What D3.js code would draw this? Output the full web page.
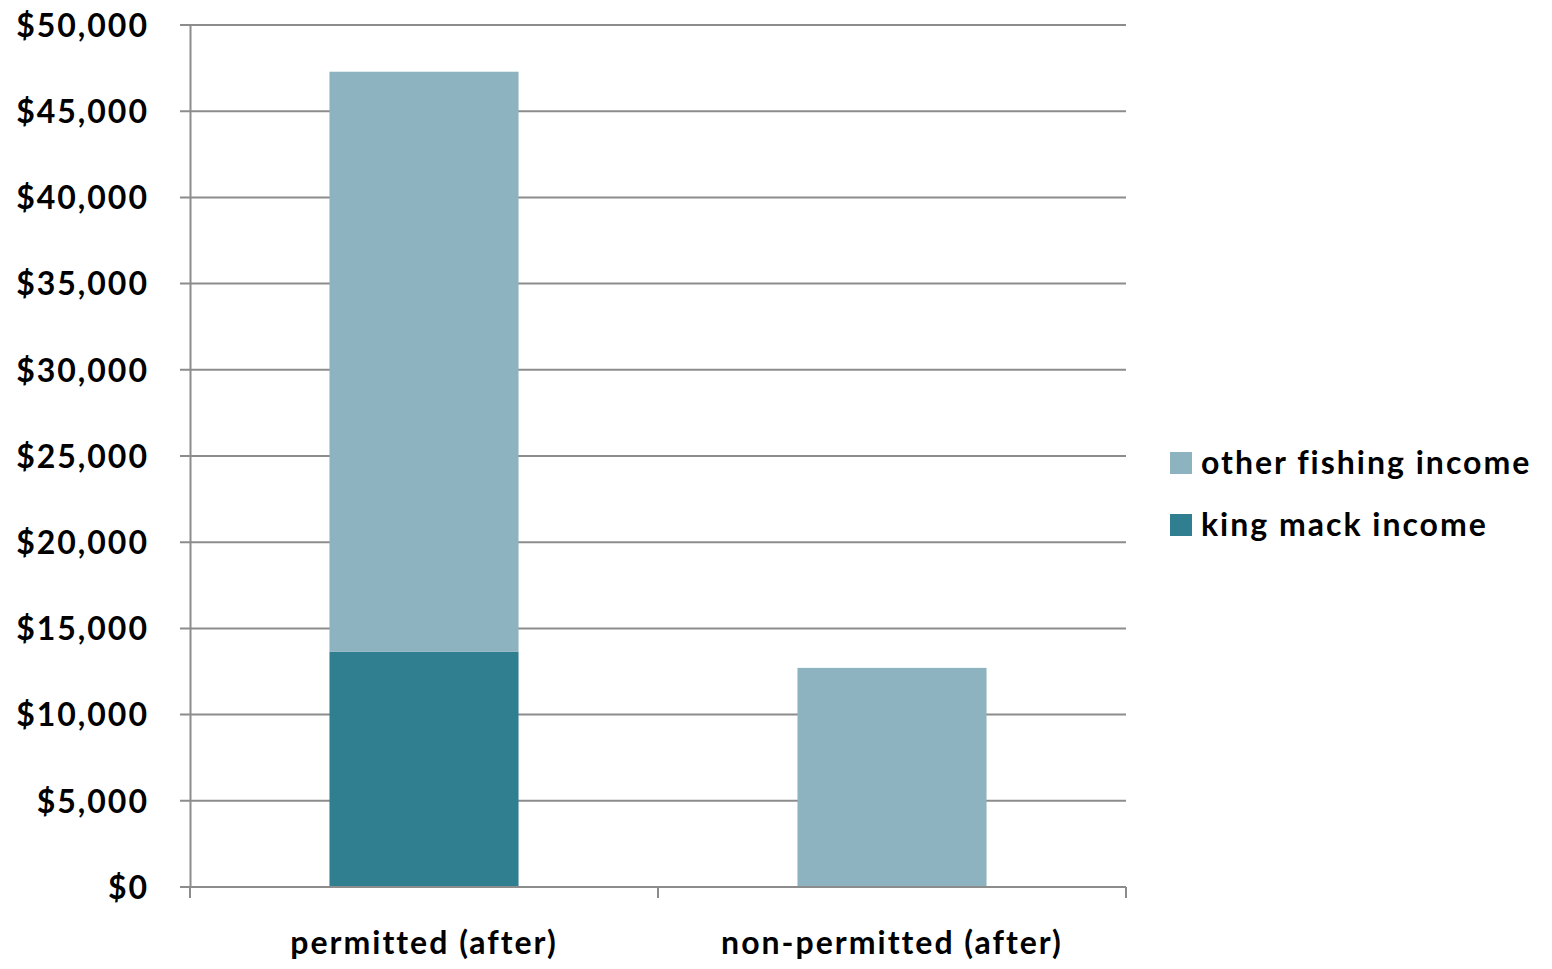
<!DOCTYPE html>
<html><head><meta charset="utf-8">
<script src="https://cdn.jsdelivr.net/npm/d3@7"></script>
<style>
html,body{margin:0;padding:0;background:#fff;}
svg{display:block;}
text{font-family:Lato, "Open Sans", sans-serif;font-weight:700;fill:#000;letter-spacing:2px;font-variant-ligatures:none;}
</style></head>
<body>
<svg id="chart" width="1552" height="969"></svg>
<script>
const categories = ["permitted (after)", "non-permitted (after)"];
const seriesNames = ["king mack income", "other fishing income"];
const kingMack = [13640, 0];
const otherFishing = [33650, 12710];
const yTicks = [0, 5000, 10000, 15000, 20000, 25000, 30000, 35000, 40000, 45000, 50000];
const colors = {"king mack income": "#2F7F91", "other fishing income": "#8DB3C1"};

(function(){
const svg = d3.select("#chart");
const mL = 190, mR = 1126, mT = 25, mB = 887;

const x = d3.scaleBand().domain(categories).range([mL, mR]).paddingInner(0).paddingOuter(0);
const y = d3.scaleLinear().domain([0, 50000]).range([mB, mT]);

const rows = categories.map((c, i) => ({cat: c, "king mack income": kingMack[i], "other fishing income": otherFishing[i]}));
const stack = d3.stack().keys(seriesNames)(rows);

// gridlines
svg.append("g").selectAll("line").data(yTicks).join("line")
  .attr("x1", mL - 10).attr("x2", mR)
  .attr("y1", d => y(d)).attr("y2", d => y(d))
  .attr("stroke", "#8c8c8c").attr("stroke-width", 2);

// bars
const barW = x.bandwidth() * 0.404;
svg.append("g").selectAll("g").data(stack).join("g")
  .attr("fill", d => colors[d.key])
  .selectAll("rect").data(d => d.filter(s => s[1] - s[0] > 0)).join("rect")
  .attr("x", d => x(d.data.cat) + (x.bandwidth() - barW) / 2)
  .attr("width", barW)
  .attr("y", d => y(d[1]))
  .attr("height", d => y(d[0]) - y(d[1]));

// y axis
const yAxis = d3.axisLeft(y).tickValues(yTicks).tickSize(0).tickPadding(41)
  .tickFormat(d => "$" + d3.format(",")(d));
const gy = svg.append("g").attr("transform", `translate(${mL},0)`).call(yAxis);
gy.select(".domain").attr("stroke", "#8c8c8c").attr("stroke-width", 2);
gy.selectAll("text").style("font-size", "32px").attr("dy", "0.35em");

// x axis
const xAxis = d3.axisBottom(x).tickSize(0).tickPadding(44);
const gx = svg.append("g").attr("transform", `translate(0,${mB})`).call(xAxis);
gx.select(".domain").remove();
gx.selectAll("text").style("font-size", "32px");
const bounds = [mL, ...categories.slice(1).map(c => x(c)), mR];
svg.append("g").selectAll("line").data(bounds).join("line")
  .attr("x1", d => d).attr("x2", d => d)
  .attr("y1", mB).attr("y2", mB + 11)
  .attr("stroke", "#8c8c8c").attr("stroke-width", 2);
svg.append("line").attr("x1", mL).attr("x2", mR).attr("y1", mB).attr("y2", mB)
  .attr("stroke", "#8c8c8c").attr("stroke-width", 2);

// legend
const legendItems = ["other fishing income", "king mack income"];
const lg = svg.append("g").selectAll("g").data(legendItems).join("g")
  .attr("transform", (d, i) => `translate(1170,${452 + i * 62})`);
lg.append("rect").attr("width", 22).attr("height", 22).attr("fill", d => colors[d]);
lg.append("text").attr("x", 31).attr("y", 11).attr("dy", "0.35em")
  .style("font-size", "32px").text(d => d);
})();
</script>
</body></html>
